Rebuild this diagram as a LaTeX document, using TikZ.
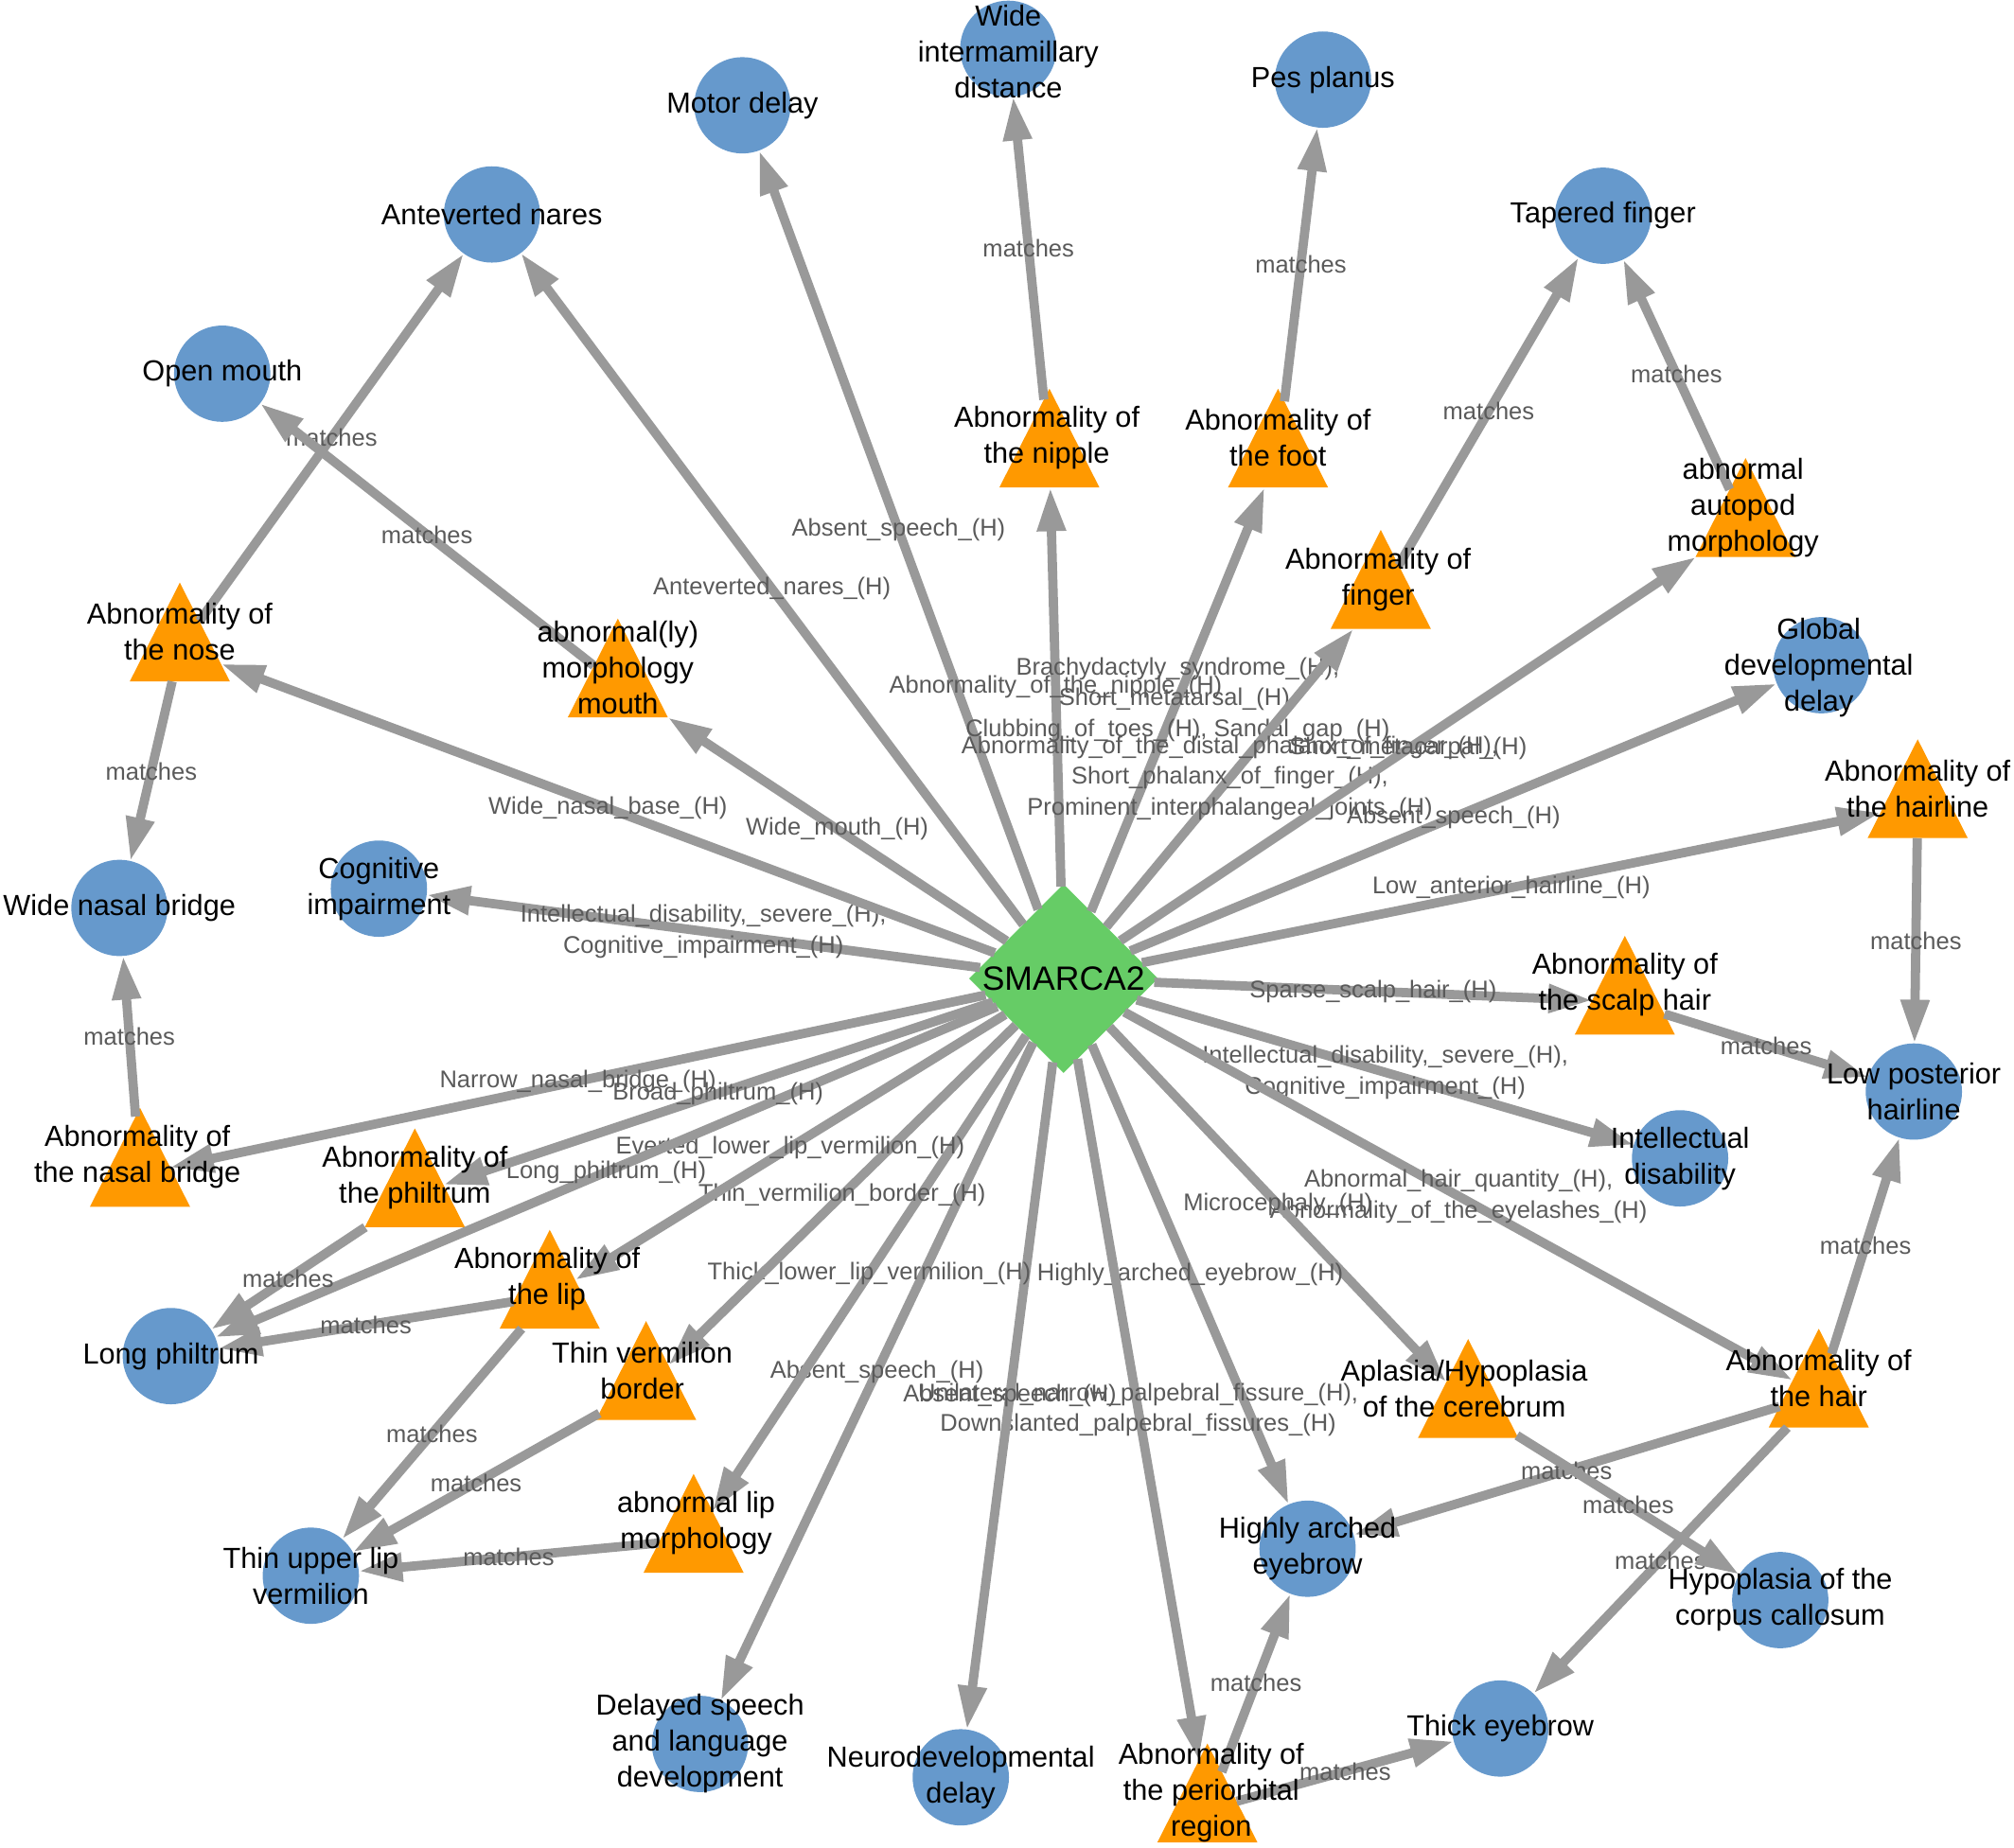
\documentclass[tikz,border=0pt]{standalone}
\usepackage{fontspec}
\setmainfont{Liberation Sans}
\usepackage{xcolor}
\usetikzlibrary{shapes.geometric, arrows.meta}

\definecolor{phenoblue}{HTML}{6699CC}
\definecolor{hpoorange}{HTML}{FF9900}
\definecolor{genegreen}{HTML}{66CC66}
\definecolor{edgegray}{HTML}{999999}
\definecolor{labelgray}{HTML}{5A5A5A}

\begin{document}
\begin{tikzpicture}[
        x=0.5pt, y=-0.5pt,
        pheno/.style={circle, fill=phenoblue, minimum size=37.5pt, inner sep=0pt, outer sep=0pt},
        hpo/.style={regular polygon, regular polygon sides=3, fill=hpoorange, minimum size=45pt, inner sep=0pt, outer sep=0pt, yscale=1.14},
        gene/.style={diamond, fill=genegreen, minimum width=73.5pt, minimum height=73.5pt, inner sep=0pt, outer sep=0pt},
        lbl/.style={align=center, inner sep=0pt, font=\fontsize{11.3}{14}\selectfont},
        arrow/.style={draw=edgegray, line width=3.6pt, -{Triangle[length=17pt, width=10.5pt]}},
        elbl/.style={align=center, inner sep=0pt, text=labelgray, font=\fontsize{9.4}{12}\selectfont}
    ]
        \useasboundingbox (0,0) rectangle (1568,1439);

        % Gene
        \node[gene] (smarca) at (828,762) {};

        % Phenotypes
        \node[pheno] (wim) at (785,38) {};
        \node[pheno] (motor) at (578,82) {};
        \node[pheno] (pes) at (1030,62) {};
        \node[pheno] (tapered) at (1248,168) {};
        \node[pheno] (nares) at (383,167) {};
        \node[pheno] (openmouth) at (173,291) {};
        \node[pheno] (gdd) at (1418,518) {};
        \node[pheno] (widenasal) at (93,707) {};
        \node[pheno] (cognitive) at (295,692) {};
        \node[pheno] (lowpost) at (1490,850) {};
        \node[pheno] (intdis) at (1308,902) {};
        \node[pheno] (longphil) at (133,1056) {};
        \node[pheno] (thinupper) at (242,1227) {};
        \node[pheno] (arched) at (1018,1206) {};
        \node[pheno] (corpus) at (1386,1246) {};
        \node[pheno] (thick) at (1168,1346) {};
        \node[pheno] (delayed) at (545,1358) {};
        \node[pheno] (neuro) at (748,1384) {};

        % HPO terms
        \node[hpo] (nipple) at (817,354) {};
        \node[hpo] (foot) at (995,354) {};
        \node[hpo] (finger) at (1075,464) {};
        \node[hpo] (autopod) at (1359,408) {};
        \node[hpo] (nose) at (140,505) {};
        \node[hpo] (mouth) at (481,533) {};
        \node[hpo] (hairline) at (1493,627) {};
        \node[hpo] (scalp) at (1265,780) {};
        \node[hpo] (nasalbr) at (109,914) {};
        \node[hpo] (philtrum) at (323,930) {};
        \node[hpo] (lip) at (428,1009) {};
        \node[hpo] (thinborder) at (503,1080) {};
        \node[hpo] (cerebrum) at (1143,1094) {};
        \node[hpo] (hair) at (1416,1086) {};
        \node[hpo] (lipmorph) at (540,1199) {};
        \node[hpo] (periorb) at (940,1409) {};

        % Gene to term
        \draw[arrow] (smarca) -- node[elbl] {Absent\_speech\_(H)} (motor);
        \draw[arrow] (smarca) -- node[elbl] {Anteverted\_nares\_(H)} (nares);
        \draw[arrow] (smarca) -- node[elbl] {Abnormality\_of\_the\_nipple\_(H)} (nipple);
        \draw[arrow] (smarca) -- node[elbl] {Brachydactyly\_syndrome\_(H),\\Short\_metatarsal\_(H),\\Clubbing\_of\_toes\_(H), Sandal\_gap\_(H)} (foot);
        \draw[arrow] (smarca) -- node[elbl] {Abnormality\_of\_the\_distal\_phalanx\_of\_finger\_(H),\\Short\_phalanx\_of\_finger\_(H),\\Prominent\_interphalangeal\_joints\_(H)} (finger);
        \draw[arrow] (smarca) -- node[elbl] {Short\_metacarpal\_(H)} (autopod);
        \draw[arrow] (smarca) -- node[elbl] {Absent\_speech\_(H)} (gdd);
        \draw[arrow] (smarca) -- node[elbl] {Low\_anterior\_hairline\_(H)} (hairline);
        \draw[arrow] (smarca) -- node[elbl] {Sparse\_scalp\_hair\_(H)} (scalp);
        \draw[arrow] (smarca) -- node[elbl] {Intellectual\_disability,\_severe\_(H),\\Cognitive\_impairment\_(H)} (intdis);
        \draw[arrow] (smarca) -- node[elbl] {Abnormal\_hair\_quantity\_(H),\\Abnormality\_of\_the\_eyelashes\_(H)} (hair);
        \draw[arrow] (smarca) -- node[elbl] {Microcephaly\_(H)} (cerebrum);
        \draw[arrow] (smarca) -- node[elbl] {Highly\_arched\_eyebrow\_(H)} (arched);
        \draw[arrow] (smarca) -- node[elbl] {Unilateral\_narrow\_palpebral\_fissure\_(H),\\Downslanted\_palpebral\_fissures\_(H)} (periorb);
        \draw[arrow] (smarca) -- node[elbl] {Absent\_speech\_(H)} (neuro);
        \draw[arrow] (smarca) -- node[elbl] {Absent\_speech\_(H)} (delayed);
        \draw[arrow] (smarca) -- node[elbl] {Thick\_lower\_lip\_vermilion\_(H)} (lipmorph);
        \draw[arrow] (smarca) -- node[elbl] {Thin\_vermilion\_border\_(H)} (thinborder);
        \draw[arrow] (smarca) -- node[elbl] {Everted\_lower\_lip\_vermilion\_(H)} (lip);
        \draw[arrow] (smarca) -- node[elbl] {Long\_philtrum\_(H)} (longphil);
        \draw[arrow] (smarca) -- node[elbl] {Broad\_philtrum\_(H)} (philtrum);
        \draw[arrow] (smarca) -- node[elbl] {Narrow\_nasal\_bridge\_(H)} (nasalbr);
        \draw[arrow] (smarca) -- node[elbl] {Intellectual\_disability,\_severe\_(H),\\Cognitive\_impairment\_(H)} (cognitive);
        \draw[arrow] (smarca) -- node[elbl] {Wide\_nasal\_base\_(H)} (nose);
        \draw[arrow] (smarca) -- node[elbl] {Wide\_mouth\_(H)} (mouth);

        % Term to phenotype
        \draw[arrow] (nipple) -- node[elbl] {matches} (wim);
        \draw[arrow] (foot) -- node[elbl] {matches} (pes);
        \draw[arrow] (finger) -- node[elbl] {matches} (tapered);
        \draw[arrow] (autopod) -- node[elbl] {matches} (tapered);
        \draw[arrow] (nose) -- node[elbl] {matches} (nares);
        \draw[arrow] (mouth) -- node[elbl] {matches} (openmouth);
        \draw[arrow] (nose) -- node[elbl] {matches} (widenasal);
        \draw[arrow] (nasalbr) -- node[elbl] {matches} (widenasal);
        \draw[arrow] (hairline) -- node[elbl] {matches} (lowpost);
        \draw[arrow] (scalp) -- node[elbl] {matches} (lowpost);
        \draw[arrow] (hair) -- node[elbl] {matches} (lowpost);
        \draw[arrow] (hair) -- node[elbl] {matches} (arched);
        \draw[arrow] (hair) -- node[elbl] {matches} (thick);
        \draw[arrow] (cerebrum) -- node[elbl] {matches} (corpus);
        \draw[arrow] (periorb) -- node[elbl] {matches} (arched);
        \draw[arrow] (periorb) -- node[elbl] {matches} (thick);
        \draw[arrow] (philtrum) -- node[elbl] {matches} (longphil);
        \draw[arrow] (lip) -- node[elbl] {matches} (longphil);
        \draw[arrow] (lip) -- node[elbl] {matches} (thinupper);
        \draw[arrow] (thinborder) -- node[elbl] {matches} (thinupper);
        \draw[arrow] (lipmorph) -- node[elbl] {matches} (thinupper);

        % Labels
        \node[lbl, font=\fontsize{13.1}{16}\selectfont] (t-smarca) at (828,762) {SMARCA2};
        \node[lbl] (t-wim) at (785,40) {Wide\\intermamillary\\distance};
        \node[lbl] (t-motor) at (578,82) {Motor delay};
        \node[lbl] (t-pes) at (1030,62) {Pes planus};
        \node[lbl] (t-tapered) at (1248,168) {Tapered finger};
        \node[lbl] (t-nares) at (383,167) {Anteverted nares};
        \node[lbl] (t-openmouth) at (173,291) {Open mouth};
        \node[lbl] (t-gdd) at (1416,520) {Global\\developmental\\delay};
        \node[lbl] (t-widenasal) at (93,707) {Wide nasal bridge};
        \node[lbl] (t-cognitive) at (295,692) {Cognitive\\impairment};
        \node[lbl] (t-lowpost) at (1490,850) {Low posterior\\hairline};
        \node[lbl] (t-intdis) at (1308,902) {Intellectual\\disability};
        \node[lbl] (t-longphil) at (133,1056) {Long philtrum};
        \node[lbl] (t-thinupper) at (242,1227) {Thin upper lip\\vermilion};
        \node[lbl] (t-arched) at (1018,1206) {Highly arched\\eyebrow};
        \node[lbl] (t-corpus) at (1386,1246) {Hypoplasia of the\\corpus callosum};
        \node[lbl] (t-thick) at (1168,1346) {Thick eyebrow};
        \node[lbl] (t-delayed) at (545,1358) {Delayed speech\\and language\\development};
        \node[lbl] (t-neuro) at (748,1384) {Neurodevelopmental\\delay};
        \node[lbl] (t-nipple) at (815,341) {Abnormality of\\the nipple};
        \node[lbl] (t-foot) at (995,341) {Abnormality of\\the foot};
        \node[lbl] (t-finger) at (1073,451) {Abnormality of\\finger};
        \node[lbl] (t-autopod) at (1357,395) {abnormal\\autopod\\morphology};
        \node[lbl] (t-nose) at (140,492) {Abnormality of\\the nose};
        \node[lbl] (t-mouth) at (481,520) {abnormal(ly)\\morphology\\mouth};
        \node[lbl] (t-hairline) at (1493,614) {Abnormality of\\the hairline};
        \node[lbl] (t-scalp) at (1265,767) {Abnormality of\\the scalp hair};
        \node[lbl] (t-nasalbr) at (107,901) {Abnormality of\\the nasal bridge};
        \node[lbl] (t-philtrum) at (323,917) {Abnormality of\\the philtrum};
        \node[lbl] (t-lip) at (426,996) {Abnormality of\\the lip};
        \node[lbl] (t-thinborder) at (500,1067) {Thin vermilion\\border};
        \node[lbl] (t-cerebrum) at (1140,1081) {Aplasia/Hypoplasia\\of the cerebrum};
        \node[lbl] (t-hair) at (1416,1073) {Abnormality of\\the hair};
        \node[lbl] (t-lipmorph) at (542,1186) {abnormal lip\\morphology};
        \node[lbl] (t-periorb) at (943,1396) {Abnormality of\\the periorbital\\region};

    \end{tikzpicture}
\end{document}
